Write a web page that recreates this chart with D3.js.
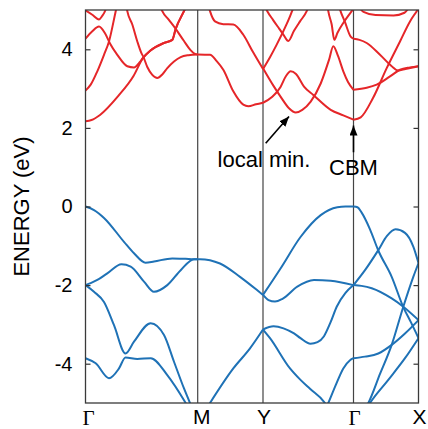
<!DOCTYPE html>
<html>
<head>
<meta charset="utf-8">
<script src="https://cdn.jsdelivr.net/npm/d3@7"></script>
<style>
  body { margin: 0; background: #fff; }
  svg { display: block; }
  .tick text { font-family: "Liberation Sans", Arial, sans-serif; font-size: 20px; fill: #000; }
  .tick line { stroke: #333; stroke-width: 1.2; }
</style>
</head>
<body>
<div id="chart"></div>
<script>
// high symmetry points along the path
var kSym = [0, 1.122, 1.775, 2.68, 3.33];
var kLabels = ["Γ", "M", "Y", "Γ", "X"];
var eTicks = [-4, -2, 0, 2, 4];

// valence bands, [k, E]
var vbGM1 = [[0,0],[0.085,-0.09],[0.185,-0.29],[0.385,-0.90],[0.485,-1.19],[0.60,-1.43],[0.685,-1.40],[0.868,-1.32],[1.0,-1.33],[1.085,-1.34],[1.122,-1.34]];
var vbGM2 = [[0,-2.0],[0.052,-1.95],[0.118,-1.87],[0.218,-1.70],[0.36,-1.47],[0.452,-1.53],[0.585,-1.91],[0.685,-2.17],[0.818,-2.0],[0.952,-1.62],[1.085,-1.34],[1.122,-1.34]];
var vbGM3 = [[0,-2.0],[0.085,-2.17],[0.185,-2.43],[0.285,-3.02],[0.40,-3.74],[0.485,-3.44],[0.652,-2.97],[0.785,-3.27],[0.885,-3.95],[0.985,-4.63],[1.045,-5.0],[1.07,-5.15]];
var vbGM4 = [[0,-3.86],[0.102,-3.99],[0.235,-4.37],[0.335,-4.12],[0.40,-3.84],[0.518,-3.88],[0.652,-3.86],[0.818,-4.29],[1.002,-5.0],[1.03,-5.12]];
var vbMY1 = [[1.122,-1.34],[1.145,-1.34],[1.345,-1.45],[1.545,-1.79],[1.712,-2.12],[1.775,-2.25]];
var vbMY2 = [[1.22,-5.1],[1.245,-5.0],[1.478,-4.12],[1.645,-3.61],[1.775,-3.13]];
var vbYG1 = [[1.775,-2.25],[1.952,-1.57],[2.152,-0.77],[2.352,-0.22],[2.518,-0.02],[2.60,0],[2.68,0]];
var vbYG2 = [[1.775,-2.25],[1.83,-2.38],[1.895,-2.42],[1.97,-2.35],[2.118,-2.04],[2.285,-1.87],[2.452,-1.89],[2.68,-2.0]];
var vbYG3 = [[1.775,-3.13],[1.88,-3.05],[1.98,-3.10],[2.085,-3.23],[2.15,-3.35],[2.25,-3.49],[2.32,-3.45],[2.385,-3.30],[2.45,-2.95],[2.512,-2.55],[2.60,-2.20],[2.68,-2.0]];
var vbYG4 = [[1.775,-3.13],[1.845,-3.35],[2.045,-4.12],[2.145,-4.40],[2.245,-4.64],[2.385,-4.97],[2.42,-5.1]];
var vbYG5 = [[2.41,-5.1],[2.428,-5.0],[2.50,-4.56],[2.578,-4.12],[2.645,-3.91],[2.68,-3.86]];
var vbGX1 = [[2.68,0],[2.72,-0.02],[2.76,-0.15],[2.845,-0.58],[2.928,-1.12],[3.062,-1.79],[3.178,-2.56],[3.255,-2.95],[3.33,-3.35]];
var vbGX2 = [[2.68,-2.0],[2.795,-1.62],[2.928,-1.11],[3.015,-0.75],[3.10,-0.58],[3.195,-0.67],[3.278,-1.02],[3.33,-1.44]];
var vbGX3 = [[2.68,-2.0],[2.76,-2.02],[2.862,-2.08],[3.062,-2.34],[3.178,-2.55],[3.33,-2.89]];
var vbGX4 = [[2.68,-3.86],[2.795,-3.82],[2.928,-3.74],[3.062,-3.52],[3.195,-3.23],[3.33,-2.89]];
var vbGX5 = [[2.80,-5.12],[2.828,-5.0],[2.945,-4.26],[3.062,-3.52],[3.178,-2.55],[3.278,-1.79],[3.33,-1.44]];
var vbGX6 = [[2.82,-5.1],[2.845,-5.0],[3.028,-4.41],[3.195,-3.86],[3.33,-3.35]];

// conduction bands, [k, E]
var cbGM1 = [[0,2.17],[0.06,2.20],[0.145,2.33],[0.33,2.82],[0.48,3.32],[0.575,3.78],[0.65,3.97],[0.785,4.16],[0.868,4.24],[0.902,4.52],[0.985,4.97],[1.0,5.05]];
var cbGM2 = [[0,2.95],[0.052,3.10],[0.118,3.44],[0.185,3.86],[0.235,4.20],[0.302,4.97],[0.315,5.12]];
var cbGM3 = [[0,4.27],[0.068,4.46],[0.135,4.58],[0.195,4.41],[0.245,4.15],[0.318,3.86],[0.418,3.57],[0.485,3.54],[0.545,3.68],[0.575,3.78],[0.65,3.97],[0.785,4.16],[0.868,4.24],[0.902,4.52],[0.985,4.97],[1.0,5.05]];
var cbGM4 = [[0.41,5.08],[0.418,4.97],[0.468,4.63],[0.518,4.20],[0.558,3.91],[0.58,3.80],[0.618,3.55],[0.668,3.35],[0.718,3.27],[0.768,3.36],[0.818,3.52],[0.885,3.69],[0.952,3.80],[1.03,3.85],[1.122,3.87]];
var cbGM5 = [[0.755,5.05],[0.768,4.97],[0.83,4.76],[0.902,4.52],[0.985,4.21],[1.05,3.98],[1.09,3.89],[1.122,3.87]];
var cbGM6 = [[0,4.99],[0.068,4.88],[0.135,4.76],[0.165,4.84],[0.20,5.0],[0.21,5.08]];
var cbMY1 = [[1.122,3.87],[1.245,3.86],[1.312,3.70],[1.378,3.48],[1.478,2.93],[1.578,2.59],[1.628,2.55],[1.705,2.60],[1.775,2.64]];
var cbMY2 = [[1.23,5.1],[1.245,4.97],[1.295,4.71],[1.378,4.64],[1.478,4.63],[1.578,4.37],[1.675,3.93],[1.775,3.50]];
var cbYG1 = [[1.775,2.64],[1.868,2.79],[1.952,3.05],[2.005,3.32],[2.052,3.44],[2.105,3.37],[2.185,3.05],[2.278,2.84],[2.452,2.46],[2.578,2.32],[2.68,2.21]];
var cbYG2 = [[1.775,3.52],[1.885,3.05],[1.952,2.79],[2.035,2.50],[2.102,2.39],[2.168,2.46],[2.252,2.67],[2.352,3.13],[2.435,3.73],[2.478,4.08],[2.525,3.83],[2.578,3.44],[2.625,3.17],[2.68,2.97]];
var cbYG3 = [[1.775,3.50],[1.845,3.80],[1.912,4.12],[1.995,4.55],[2.045,4.84],[2.07,5.0],[2.08,5.06]];
var cbYG4 = [[1.80,5.06],[1.818,4.97],[1.875,4.75],[1.938,4.52],[1.985,4.35],[2.028,4.21],[2.085,4.47],[2.145,4.71],[2.212,4.97],[2.225,5.05]];
var cbYG5 = [[2.42,5.1],[2.428,4.97],[2.462,4.63],[2.488,4.24],[2.52,4.42],[2.578,4.67],[2.662,4.97],[2.68,5.03]];
var cbYG6 = [[2.54,5.05],[2.552,4.96],[2.595,4.69],[2.652,4.32],[2.68,4.27]];
var cbGX1 = [[2.68,2.21],[2.752,2.27],[2.875,2.76],[3.012,3.52],[3.145,4.20],[3.245,4.71],[3.312,4.97],[3.33,5.04]];
var cbGX2 = [[2.68,2.97],[2.812,3.02],[2.912,3.10],[3.045,3.31],[3.145,3.48],[3.245,3.54],[3.33,3.57]];
var cbGX3 = [[2.68,4.27],[2.74,4.24],[2.812,4.16],[2.945,3.86],[3.062,3.57],[3.125,3.46],[3.20,3.50],[3.33,3.57]];
var cbGX4 = [[2.73,5.1],[2.78,4.95],[2.90,4.87],[3.08,4.86],[3.19,4.93],[3.23,5.05]];

var valenceBands = [vbGM1, vbGM2, vbGM3, vbGM4, vbMY1, vbMY2, vbYG1, vbYG2, vbYG3, vbYG4, vbYG5,
    vbGX1, vbGX2, vbGX3, vbGX4, vbGX5, vbGX6];
var conductionBands = [cbGM1, cbGM2, cbGM3, cbGM4, cbGM5, cbGM6, cbMY1, cbMY2,
    cbYG1, cbYG2, cbYG3, cbYG4, cbYG5, cbYG6, cbGX1, cbGX2, cbGX3, cbGX4];

// annotations: text, arrow tail and tip in [k, E]
var notes = [
    {text: "local min.", textAt: [1.785, 1.01], tail: [1.802, 1.61], tip: [2.035, 2.29]},
    {text: "CBM", textAt: [2.68, 0.80], tail: [2.68, 1.38], tip: [2.68, 2.06]}
];

var width = 428, height = 429;
var margin = {top: 10, right: 9.5, bottom: 26, left: 85.5};

var svg = d3.select("#chart").append("svg")
    .attr("width", width)
    .attr("height", height);

var x = d3.scaleLinear().domain([kSym[0], kSym[kSym.length - 1]])
    .range([margin.left, width - margin.right]);
var y = d3.scaleLinear().domain([-5, 5])
    .range([height - margin.bottom, margin.top]);

svg.append("defs").append("clipPath").attr("id", "plotClip")
    .append("rect")
    .attr("x", x.range()[0]).attr("y", y.range()[1])
    .attr("width", x.range()[1] - x.range()[0])
    .attr("height", y.range()[0] - y.range()[1]);

svg.select("defs").append("marker")
    .attr("id", "arrowHead")
    .attr("viewBox", "0 0 10 8")
    .attr("refX", 10).attr("refY", 4)
    .attr("markerUnits", "userSpaceOnUse")
    .attr("markerWidth", 10).attr("markerHeight", 8)
    .attr("orient", "auto")
    .append("path").attr("d", "M0,0 L10,4 L0,8 Z").attr("fill", "#000");

// vertical lines at high symmetry points
svg.selectAll("line.sym").data(kSym.slice(1, kSym.length - 1))
    .enter().append("line")
    .attr("class", "sym")
    .attr("x1", function(d) { return x(d); }).attr("x2", function(d) { return x(d); })
    .attr("y1", y(5)).attr("y2", y(-5))
    .attr("stroke", "#444").attr("stroke-width", 1.2);

var line = d3.line()
    .x(function(d) { return x(d[0]); })
    .y(function(d) { return y(d[1]); })
    .curve(d3.curveMonotoneX);

var bands = svg.append("g").attr("clip-path", "url(#plotClip)");

bands.selectAll("path.vb").data(valenceBands)
    .enter().append("path")
    .attr("class", "vb")
    .attr("d", line)
    .attr("fill", "none")
    .attr("stroke", "#1f72b6")
    .attr("stroke-width", 2);

bands.selectAll("path.cb").data(conductionBands)
    .enter().append("path")
    .attr("class", "cb")
    .attr("d", line)
    .attr("fill", "none")
    .attr("stroke", "#e52629")
    .attr("stroke-width", 2);

// axes with inward ticks
var yAxis = d3.axisLeft(y).tickValues(eTicks).tickSize(-5).tickPadding(13)
    .tickFormat(function(d) { return String(d); });
svg.append("g").attr("transform", "translate(" + x.range()[0] + ",0)")
    .call(yAxis)
    .call(function(g) { g.select(".domain").remove(); });

var yAxisRight = d3.axisRight(y).tickValues(eTicks).tickSize(-5).tickFormat("");
svg.append("g").attr("transform", "translate(" + x.range()[1] + ",0)")
    .call(yAxisRight)
    .call(function(g) { g.select(".domain").remove(); });

// frame
svg.append("rect")
    .attr("x", x.range()[0]).attr("y", y(5))
    .attr("width", x.range()[1] - x.range()[0])
    .attr("height", y(-5) - y(5))
    .attr("fill", "none")
    .attr("stroke", "#3a3a3a")
    .attr("stroke-width", 1.3);

// k-point labels
svg.selectAll("text.klabel").data(kLabels)
    .enter().append("text")
    .attr("class", "klabel")
    .attr("x", function(d, i) {
        if (i == 0) return x(kSym[i]) + 3;
        if (d == "M") return x(kSym[i]) + 4;
        return x(kSym[i]) + 1;
    })
    .attr("y", function(d) { return d == "Γ" ? 425 : 424; })
    .attr("text-anchor", "middle")
    .style("font-family", function(d) {
        return d == "Γ" ? "'Liberation Serif', 'Times New Roman', serif" : "'Liberation Sans', Arial, sans-serif";
    })
    .style("font-size", "21px")
    .text(function(d) { return d; });

// y-axis title
svg.append("text")
    .attr("transform", "translate(28.5," + y(0) + ") rotate(-90)")
    .attr("text-anchor", "middle")
    .style("font-family", "'Liberation Sans', Arial, sans-serif")
    .style("font-size", "22px")
    .text("ENERGY (eV)");

// annotations
svg.selectAll("line.note").data(notes)
    .enter().append("line")
    .attr("class", "note")
    .attr("x1", function(d) { return x(d.tail[0]); })
    .attr("y1", function(d) { return y(d.tail[1]); })
    .attr("x2", function(d) { return x(d.tip[0]); })
    .attr("y2", function(d) { return y(d.tip[1]); })
    .attr("stroke", "#000")
    .attr("stroke-width", 1.6)
    .attr("marker-end", "url(#arrowHead)");

svg.selectAll("text.note").data(notes)
    .enter().append("text")
    .attr("class", "note")
    .attr("x", function(d) { return x(d.textAt[0]); })
    .attr("y", function(d) { return y(d.textAt[1]); })
    .attr("text-anchor", "middle")
    .style("font-family", "'Liberation Sans', Arial, sans-serif")
    .style("font-size", "22px")
    .text(function(d) { return d.text; });
</script>
</body>
</html>
